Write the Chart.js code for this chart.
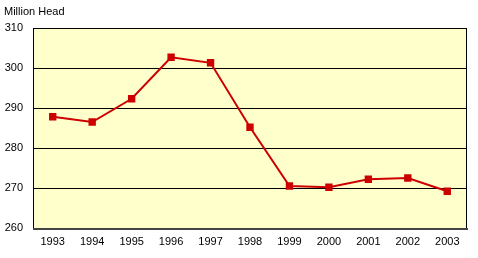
<!DOCTYPE html>
<html><head><meta charset="utf-8">
<script src="https://cdn.jsdelivr.net/npm/chart.js@4/dist/chart.umd.min.js"></script>
<style>html,body{margin:0;padding:0;background:#fff}#w{width:478px;height:258px}</style>
</head><body><div id="w"><canvas id="c" width="478" height="258"></canvas></div>
<script>
const years = ["1993","1994","1995","1996","1997","1998","1999","2000","2001","2002","2003"];
const millionHead = [287.8, 286.5, 292.3, 302.7, 301.3, 285.2, 270.5, 270.2, 272.2, 272.5, 269.2];
const yTicks = [260, 270, 280, 290, 300, 310];
const unitLabel = "Million Head";

const FONT = "'Liberation Sans', Arial, sans-serif";

const decor = {
  id: 'decor',
  beforeDraw(chart) {
    const {ctx, chartArea: a} = chart;
    ctx.save();
    ctx.fillStyle = '#FFFFCC';
    ctx.fillRect(a.left, a.top, a.right - a.left, a.bottom - a.top);
    ctx.restore();
  },
  afterDraw(chart) {
    const {ctx, chartArea: a} = chart;
    ctx.save();
    ctx.strokeStyle = '#000';
    ctx.lineWidth = 1;
    ctx.beginPath();
    ctx.moveTo(a.left + 0.5, a.bottom);
    ctx.lineTo(a.left + 0.5, a.top + 0.5);
    ctx.lineTo(a.right - 0.5, a.top + 0.5);
    ctx.lineTo(a.right - 0.5, a.bottom);
    ctx.stroke();
    ctx.strokeStyle = '#444';
    ctx.lineWidth = 2;
    ctx.beginPath();
    ctx.moveTo(a.left, a.bottom + 1);
    ctx.lineTo(a.right + 1, a.bottom + 1);
    ctx.stroke();
    ctx.fillStyle = '#000';
    ctx.font = '11px ' + FONT;
    ctx.textBaseline = 'alphabetic';
    ctx.textAlign = 'left';
    ctx.fillText(unitLabel, 4, 15);
    ctx.restore();
  }
};

new Chart(document.getElementById('c'), {
  type: 'line',
  data: {
    labels: years,
    datasets: [{
      data: millionHead,
      borderColor: '#CC0000',
      backgroundColor: '#CC0000',
      borderWidth: 2,
      pointStyle: 'rect',
      pointRadius: 3.8,
      pointHoverRadius: 3.8,
      tension: 0,
      fill: false
    }]
  },
  options: {
    responsive: false,
    animation: false,
    devicePixelRatio: 1,
    layout: {padding: {top: 28, right: 11, bottom: 0, left: 0}},
    plugins: {legend: {display: false}, tooltip: {enabled: false}},
    scales: {
      x: {
        offset: true,
        grid: {display: false, drawTicks: false},
        border: {display: false},
        ticks: {color: '#000', font: {family: FONT, size: 11}, padding: 7, maxRotation: 0, autoSkip: false},
        afterFit(s) { s.height = 30; }
      },
      y: {
        min: yTicks[0],
        max: yTicks[yTicks.length - 1],
        afterBuildTicks(s) { s.ticks = yTicks.map(v => ({value: v})); },
        grid: {color: '#000', lineWidth: 1, drawTicks: false},
        border: {display: false},
        ticks: {color: '#000', font: {family: FONT, size: 11}, padding: 10},
        afterFit(s) { s.width = 33; }
      }
    }
  },
  plugins: [decor]
});
</script></body></html>
